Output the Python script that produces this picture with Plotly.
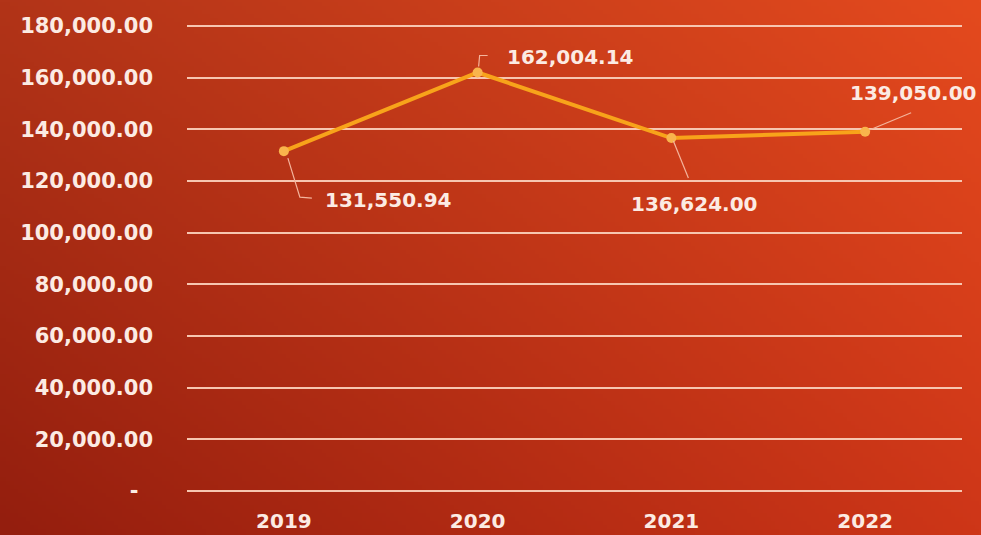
import base64
import struct
import zlib

import numpy as np
import plotly.graph_objects as go

# ---- data -------------------------------------------------------------
years = ["2019", "2020", "2021", "2022"]
values = [131550.94, 162004.14, 136624.00, 139050.00]
y_tickvals = [0, 20000, 40000, 60000, 80000, 100000, 120000, 140000, 160000, 180000]
y_ticktext = ["-\u00a0\u00a0"] + [f"{v:,.2f}" for v in y_tickvals[1:]]

# label placement (pixel offsets from each point) and leader-line paths
label_shift = [(105, -49), (93, 15), (23, -66), (48, 39)]
leader_paths = [
    "M 4,-7 L 16,-46 L 28,-47",
    "M 1,6 L 2,17 L 10,17",
    "M 2,-3 L 17,-40",
    "M 5,2 L 46,19",
]

# ---- figure geometry ---------------------------------------------------
W, H = 981, 535
PAD = 4                      # px of breathing room so edge gridlines survive clipping
ML, MR, MT, MB = 187, 19, 26 - PAD, 44 - PAD
PW, PH = W - ML - MR, H - MT - MB
Y_MAX = 180000
per_px = Y_MAX / (PH - 2 * PAD)
y_range = [-PAD * per_px, Y_MAX + PAD * per_px]


def gradient_png(w, h):
    """Bilinear four-corner gradient encoded as a PNG data URI."""
    tl = np.array([178, 52, 24], float)
    tr = np.array([228, 74, 30], float)
    bl = np.array([148, 30, 14], float)
    br = np.array([206, 54, 24], float)
    u = np.linspace(0, 1, w)[None, :, None]
    v = np.linspace(0, 1, h)[:, None, None]
    top = tl * (1 - u) + tr * u
    bot = bl * (1 - u) + br * u
    img = (top * (1 - v) + bot * v).clip(0, 255).astype(np.uint8)
    raw = b"".join(b"\x00" + img[r].tobytes() for r in range(h))

    def chunk(tag, data):
        c = tag + data
        return struct.pack(">I", len(data)) + c + struct.pack(">I", zlib.crc32(c) & 0xFFFFFFFF)

    png = b"\x89PNG\r\n\x1a\n"
    png += chunk(b"IHDR", struct.pack(">IIBBBBB", w, h, 8, 2, 0, 0, 0))
    png += chunk(b"IDAT", zlib.compress(raw, 9))
    png += chunk(b"IEND", b"")
    return "data:image/png;base64," + base64.b64encode(png).decode()


text_color = "#fcebe3"
grid_color = "#f7c6b0"
line_color = "#f8a31a"
font_family = "DejaVu Sans"

fig = go.Figure()

fig.add_trace(
    go.Scatter(
        x=years,
        y=values,
        mode="lines+markers",
        line=dict(color=line_color, width=4),
        marker=dict(size=10, color="#f9b44c", line=dict(width=0)),
        hoverinfo="skip",
        showlegend=False,
    )
)

for i, (yr, val, (dx, dy), path) in enumerate(zip(years, values, label_shift, leader_paths)):
    fig.add_shape(
        type="path",
        xref="x",
        yref="y",
        xsizemode="pixel",
        ysizemode="pixel",
        xanchor=i,
        yanchor=val,
        path=path,
        line=dict(color="#f4b49c", width=1.2),
        layer="above",
    )
    fig.add_annotation(
        x=i,
        y=val,
        xref="x",
        yref="y",
        text=f"{val:,.2f}",
        showarrow=False,
        xshift=dx,
        yshift=dy,
        font=dict(family=font_family, size=20, color=text_color, weight="bold"),
    )

fig.add_layout_image(
    dict(
        source=gradient_png(245, 134),
        xref="paper",
        yref="paper",
        x=-ML / PW,
        y=1 + MT / PH,
        sizex=W / PW,
        sizey=H / PH,
        sizing="stretch",
        xanchor="left",
        yanchor="top",
        layer="below",
    )
)

fig.update_layout(
    width=W,
    height=H,
    margin=dict(l=ML, r=MR, t=MT, b=MB, pad=0),
    paper_bgcolor="#bd3a1c",
    plot_bgcolor="rgba(0,0,0,0)",
    font=dict(family=font_family, size=20, color=text_color, weight="bold"),
    xaxis=dict(
        type="category",
        range=[-0.5, 3.5],
        showgrid=False,
        zeroline=False,
        showline=False,
        ticks="",
        ticklabelstandoff=12,
        automargin=False,
        fixedrange=True,
    ),
    yaxis=dict(
        range=y_range,
        tickvals=y_tickvals,
        ticktext=y_ticktext,
        tickfont=dict(size=21),
        showgrid=True,
        gridcolor=grid_color,
        gridwidth=2,
        zeroline=False,
        showline=False,
        ticks="",
        ticklabelstandoff=33,
        automargin=False,
        fixedrange=True,
    ),
)

fig.write_html("out.html", config={"displayModeBar": False})
